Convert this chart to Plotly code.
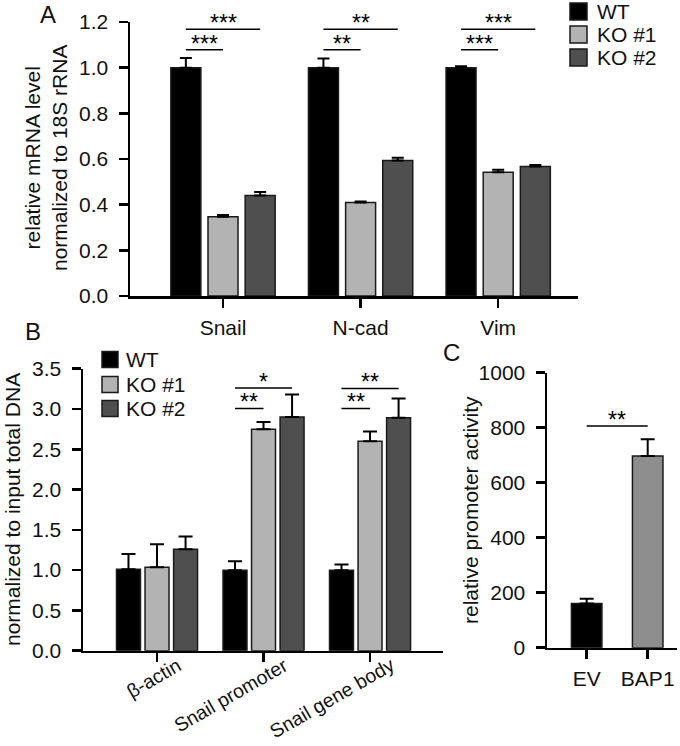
import plotly.graph_objects as go

W, H = 680, 746

# ---------------- data ----------------
groups = ["WT", "KO #1", "KO #2"]
group_colors = ["#000000", "#b3b3b3", "#4f4f4f"]

# Panel A
a_categories = ["Snail", "N-cad", "Vim"]
a_wt = [1.0, 1.0, 1.0]
a_wt_err = [0.042, 0.04, 0.006]
a_ko1 = [0.347, 0.409, 0.542]
a_ko1_err = [0.008, 0.005, 0.011]
a_ko2 = [0.44, 0.593, 0.567]
a_ko2_err = [0.016, 0.012, 0.007]
a_yticks = [0.0, 0.2, 0.4, 0.6, 0.8, 1.0, 1.2]
# (category index, compared group index, level, label)
a_sig = [(0, 1, 1.079, "***"), (0, 2, 1.168, "***"),
         (1, 1, 1.079, "**"), (1, 2, 1.168, "**"),
         (2, 1, 1.079, "***"), (2, 2, 1.168, "***")]

# Panel B
b_categories = ["β-actin", "Snail promoter", "Snail gene body"]
b_wt = [1.01, 1.0, 1.0]
b_wt_err = [0.19, 0.11, 0.07]
b_ko1 = [1.035, 2.747, 2.60]
b_ko1_err = [0.285, 0.09, 0.12]
b_ko2 = [1.258, 2.90, 2.89]
b_ko2_err = [0.16, 0.28, 0.24]
b_yticks = [0.0, 0.5, 1.0, 1.5, 2.0, 2.5, 3.0, 3.5]
b_sig = [(1, 1, 3.007, "**"), (1, 2, 3.26, "*"),
         (2, 1, 3.007, "**"), (2, 2, 3.255, "**")]

# Panel C
c_categories = ["EV", "BAP1"]
c_values = [161, 697]
c_err = [17, 61]
c_colors = ["#000000", "#8d8d8d"]
c_yticks = [0, 200, 400, 600, 800, 1000]
c_sig_level = 806
c_sig_label = "**"

FONT = "Liberation Sans, Arial, sans-serif"


def px(x):
    return x / W


def py(y):
    return 1 - y / H


fig = go.Figure()

# ---------------- bars ----------------
def add_group_bars(xa, ya, vals_list, errs_list, bw, step, capw):
    for i, (vals, errs) in enumerate(zip(vals_list, errs_list)):
        n = len(vals)
        fig.add_trace(go.Bar(
            x=list(range(n)), y=vals, width=bw,
            offset=(i - 1) * step - bw / 2,
            name=groups[i],
            marker=dict(color=group_colors[i], line=dict(color="#1a1a1a", width=1.5)),
            error_y=dict(type="data", array=errs, arrayminus=[0] * n, symmetric=False,
                         color="#000000", thickness=2, width=capw),
            xaxis=xa, yaxis=ya, showlegend=False,
        ))


A_W, A_STEP = 0.218, 0.27
B_W, B_STEP = 0.225, 0.268
add_group_bars("x", "y", [a_wt, a_ko1, a_ko2], [a_wt_err, a_ko1_err, a_ko2_err], A_W, A_STEP, 6)
add_group_bars("x2", "y2", [b_wt, b_ko1, b_ko2], [b_wt_err, b_ko1_err, b_ko2_err], B_W, B_STEP, 7)

C_W = 0.5
fig.add_trace(go.Bar(
    x=list(range(len(c_values))), y=c_values, width=C_W, offset=-C_W / 2,
    marker=dict(color=c_colors, line=dict(color="#1a1a1a", width=1.5)),
    error_y=dict(type="data", array=c_err, arrayminus=[0] * len(c_err), symmetric=False,
                 color="#000000", thickness=2, width=7),
    xaxis="x3", yaxis="y3", showlegend=False,
))

# ---------------- axes ----------------
tickfont = dict(family=FONT, size=21, color="#111111")
common = dict(showline=True, linewidth=2.5, linecolor="#000000", ticks="outside",
              ticklen=9, tickwidth=2.5, tickcolor="#000000", showgrid=False,
              zeroline=False, tickfont=tickfont, fixedrange=True, automargin=False)

fig.update_layout(
    xaxis=dict(domain=[px(130), px(578)], range=[-0.676, 2.58], anchor="y",
               tickmode="array", tickvals=list(range(3)), ticktext=a_categories,
               ticklabelstandoff=2, **common),
    yaxis=dict(domain=[py(296), py(22)], range=[0, 1.2], anchor="x",
               tickmode="array", tickvals=a_yticks, tickformat=".1f",
               ticklabelstandoff=6, **common),
    xaxis2=dict(domain=[px(83), px(443)], range=[-0.695, 2.685], anchor="y2",
                tickmode="array", tickvals=list(range(3)), ticktext=b_categories,
                showticklabels=False, **common),
    yaxis2=dict(domain=[py(650.7), py(368.7)], range=[0, 3.5], anchor="x2",
                tickmode="array", tickvals=b_yticks, tickformat=".1f",
                ticklabelstandoff=6, **common),
    xaxis3=dict(domain=[px(547), px(677)], range=[-0.65, 1.48], anchor="y3",
                tickmode="array", tickvals=list(range(2)), ticktext=c_categories,
                ticklabelstandoff=2, **common),
    yaxis3=dict(domain=[py(647.7), py(372.7)], range=[0, 1000], anchor="x3",
                tickmode="array", tickvals=c_yticks, ticklabelstandoff=6, **common),
)

shapes = []
annotations = []


def add_bracket(xref, yref, x0, x1, level, label, star_size=23):
    shapes.append(dict(type="line", xref=xref, yref=yref, x0=x0, x1=x1, y0=level, y1=level,
                       line=dict(color="#000000", width=1.5)))
    annotations.append(dict(xref=xref, yref=yref, x=(x0 + x1) / 2, y=level, text=label,
                            showarrow=False, xanchor="center", yanchor="bottom", yshift=-9,
                            font=dict(family=FONT, size=star_size, color="#000000")))


for cat, grp, level, label in a_sig:
    add_bracket("x", "y", cat - A_STEP, cat + (grp - 1) * A_STEP, level, label)
for cat, grp, level, label in b_sig:
    add_bracket("x2", "y2", cat - B_STEP, cat + (grp - 1) * B_STEP, level, label)
add_bracket("x3", "y3", 0, 1, c_sig_level, c_sig_label)

# rotated category labels for panel B
for i, lab in enumerate(b_categories):
    annotations.append(dict(xref="x2", yref="paper", x=i, xshift=29, y=py(652), text=lab,
                            textangle=-30, showarrow=False, xanchor="right", yanchor="top",
                            borderpad=0, font=dict(family=FONT, size=19.5, color="#111111")))

# axis titles
title_font = dict(family=FONT, size=21, color="#111111")
annotations.append(dict(xref="paper", yref="paper", x=px(46), y=py(158),
                        text="relative mRNA level<br>normalized to 18S rRNA", textangle=-90,
                        showarrow=False, xanchor="center", yanchor="middle", font=title_font))
annotations.append(dict(xref="paper", yref="paper", x=px(12), y=py(510),
                        text="normalized to input total DNA", textangle=-90,
                        showarrow=False, xanchor="center", yanchor="middle", font=title_font))
annotations.append(dict(xref="paper", yref="paper", x=px(470), y=py(510),
                        text="relative promoter activity", textangle=-90,
                        showarrow=False, xanchor="center", yanchor="middle", font=title_font))

# panel letters
letter_font = dict(family=FONT, size=24, color="#111111")
for letter, lx, ly in [("A", 48, 14), ("B", 33, 331), ("C", 451, 352)]:
    annotations.append(dict(xref="paper", yref="paper", x=px(lx), y=py(ly), text=letter,
                            showarrow=False, xanchor="center", yanchor="middle", font=letter_font))

# legends (manual)
legend_font = dict(family=FONT, size=21, color="#111111")


def add_legend(sq_x0, sq_size, centers, text_x):
    for i, cy in enumerate(centers):
        shapes.append(dict(type="rect", xref="paper", yref="paper",
                           x0=px(sq_x0), x1=px(sq_x0 + sq_size),
                           y0=py(cy + sq_size / 2), y1=py(cy - sq_size / 2),
                           fillcolor=group_colors[i], line=dict(color="#1a1a1a", width=1.5)))
        annotations.append(dict(xref="paper", yref="paper", x=px(text_x), y=py(cy),
                                text=groups[i], showarrow=False, xanchor="left",
                                yanchor="middle", borderpad=0, font=legend_font))


add_legend(570, 17, [11.5, 34.5, 57.5], 596)
add_legend(102, 16, [359.5, 384.5, 408.5], 125)

fig.update_layout(
    width=W, height=H, autosize=False,
    margin=dict(l=0, r=0, t=0, b=0, autoexpand=False),
    paper_bgcolor="#ffffff", plot_bgcolor="#ffffff",
    barmode="overlay",
    shapes=shapes, annotations=annotations,
    font=dict(family=FONT, color="#111111"),
    showlegend=False,
)

fig.write_html("out.html",
               config={"displayModeBar": False, "staticPlot": True},
               post_script="document.body.style.margin='0px';"
                           "document.body.style.overflow='hidden';")
